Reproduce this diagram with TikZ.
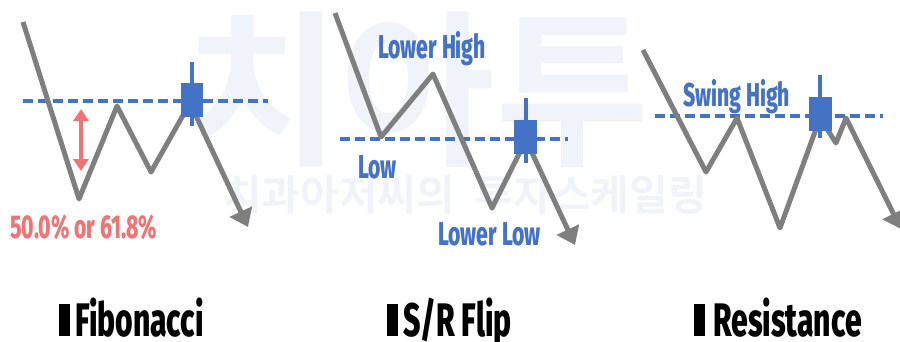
\documentclass[tikz,border=0pt]{standalone}
\usepackage{fontspec}
\setmainfont{Fira Sans}
\newfontfamily\condfont[FakeStretch=0.64,BoldFont={Fira Sans ExtraBold}]{Fira Sans}
\newfontfamily\markfont{Noto Sans CJK KR}[BoldFont={Noto Sans CJK KR Bold}]
\usetikzlibrary{arrows.meta}
\definecolor{pricegray}{HTML}{7F7F7F}
\definecolor{levelblue}{HTML}{4472C4}
\definecolor{fibred}{HTML}{F07474}
\definecolor{markblue}{HTML}{F0F4FA}

\begin{document}
\begin{tikzpicture}[x=1pt,y=-1pt,>=Latex,
    price/.style={pricegray,line width=5pt,line join=round,
      -{Triangle[length=17pt,width=24pt]}},
    level/.style={levelblue,line width=3.5pt,dash pattern=on 10pt off 5pt},
    candle/.style={fill=levelblue,draw=none},
    wick/.style={levelblue,line width=3.5pt},
    tag/.style={inner sep=0pt,anchor=base west,
      font=\condfont\bfseries\fontsize{33}{33}\selectfont},
    title/.style={inner sep=0pt,anchor=base west,
      font=\condfont\bfseries\fontsize{47}{47}\selectfont},
    titlebar/.style={fill=black,draw=none,inner sep=0pt,
      minimum width=11pt,minimum height=32pt,anchor=south east}]
  \useasboundingbox (0,0) rectangle (900,341);
  \clip (0,0) rectangle (900,341);

  \node[markblue,inner sep=0pt,font=\markfont\bfseries\fontsize{168}{168}\selectfont]
    (brand) at (418,90) {치아투};
  \node[markblue,inner sep=0pt,font=\markfont\bfseries\fontsize{42}{42}\selectfont]
    (slogan) at (465,195) {치과아저씨의\hspace{20pt}투자스케일링};

  % Fibonacci
  \draw[level] (23,101) coordinate (fibL) -- (268,101) coordinate (fibR);
  \draw[price] (23,22) -- (79,199) coordinate (fibLow) -- (117,106)
    -- (151,172) -- (190,103) -- (248,227);
  \draw[fibred,line width=3.5pt,
    {Triangle[length=12pt,width=15pt]}-{Triangle[length=12pt,width=15pt]}]
    (81,109) coordinate (fibTop) -- (81,171) coordinate (fibBot);
  \draw[wick] (192,62) -- (192,126);
  \fill[candle] (181,83) rectangle (203,117);
  \node[tag,text=fibred] (fibRatio) at (10,238) {50.0\% or 61.8\%};

  % S/R flip
  \draw[level] (340,139) coordinate (flipL) -- (568,139) coordinate (flipR);
  \draw[price] (335,13) -- (381,137) -- (433,74) -- (492,208)
    -- (526,140) -- (575,245);
  \draw[wick] (526,98) -- (526,163);
  \fill[candle] (514,120) rectangle (537,154);
  \node[tag,text=levelblue] (lowerHigh) at (378,58) {Lower High};
  \node[tag,text=levelblue] (low) at (358,178) {Low};
  \node[tag,text=levelblue] (lowerLow) at (438,245) {Lower Low};

  % Resistance
  \draw[level] (655,116) coordinate (resL) -- (883,116) coordinate (resR);
  \draw[price] (643,50) -- (706,172) -- (737,118) -- (780,228)
    -- (820,118) -- (836,143) -- (846,118) -- (901,229);
  \draw[wick] (820,75) -- (820,138);
  \fill[candle] (809,97) rectangle (832,131);
  \node[tag,text=levelblue] (swingHigh) at (683,106) {Swing High};

  \node[title] (fibTitle) at (75,336) {Fibonacci};
  \node[title] (flipTitle) at (403,336) {S/R Flip};
  \node[title] (resTitle) at (713,336) {Resistance};
  \node[titlebar] at ([xshift=-5pt]fibTitle.base west) {};
  \node[titlebar] at ([xshift=-5pt]flipTitle.base west) {};
  \node[titlebar] at ([xshift=-8pt]resTitle.base west) {};
\end{tikzpicture}
\end{document}
